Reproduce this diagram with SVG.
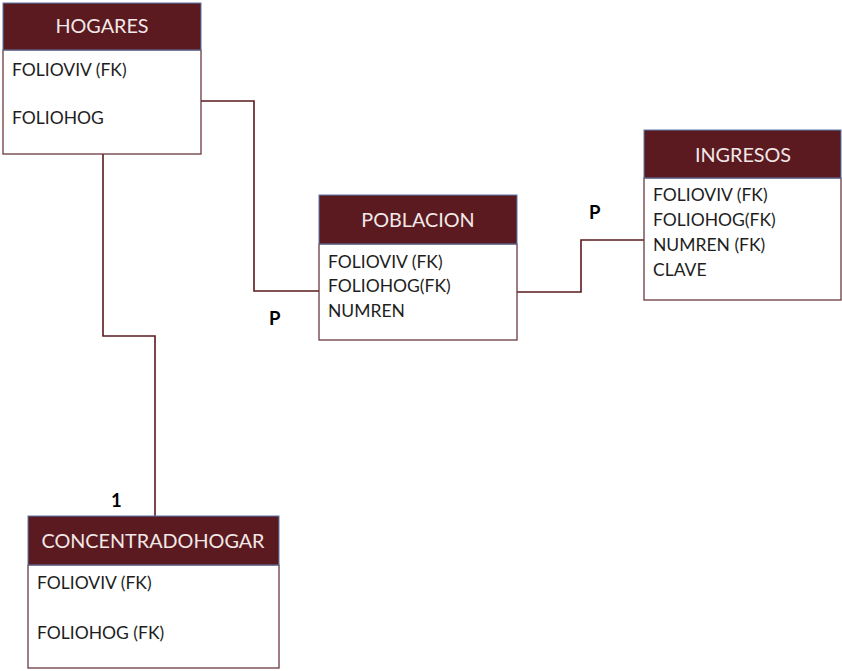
<svg xmlns="http://www.w3.org/2000/svg" width="842" height="671" viewBox="0 0 842 671">
<style>
.body{fill:#ffffff;stroke:#6b3a40;stroke-width:1.3}
.head{fill:#5a1a1f;stroke:#5b7bb0;stroke-width:1}
.ht{font-family:Lato,"Liberation Sans",sans-serif;font-size:19.8px;fill:#f3e8e8;text-anchor:middle}
.at{font-family:Lato,"Liberation Sans",sans-serif;font-size:17.5px;fill:#1e1e1e}
.lb{font-family:Lato,"Liberation Sans",sans-serif;font-size:18.5px;font-weight:bold;fill:#000}
.con{fill:none;stroke:#5a1a1f;stroke-width:1.6}
</style>
<rect width="842" height="671" fill="#ffffff"/>
<g id="connectors">
<polyline class="con" points="201,101 254,101 254,291 319,291"/>
<polyline class="con" points="517,292 581,292 581,240 644,240"/>
<polyline class="con" points="103,154 103,336 155,336 155,516"/>
</g>
<g id="labels">
<text class="lb" x="269" y="325">P</text>
<text class="lb" x="589" y="219">P</text>
<text class="lb" x="111" y="507">1</text>
</g>
<g id="hogares">
<rect class="body" x="3" y="50" width="198" height="104"/>
<rect class="head" x="3" y="3" width="198" height="47"/>
<text class="ht" x="102" y="33">HOGARES</text>
<text class="at" x="12" y="76">FOLIOVIV (FK)</text>
<text class="at" x="12" y="124">FOLIOHOG</text>
</g>
<g id="poblacion">
<rect class="body" x="319" y="244" width="198" height="96"/>
<rect class="head" x="319" y="195" width="198" height="49"/>
<text class="ht" x="418" y="227">POBLACION</text>
<text class="at" x="328" y="268">FOLIOVIV (FK)</text>
<text class="at" x="328" y="292">FOLIOHOG(FK)</text>
<text class="at" x="328" y="317">NUMREN</text>
</g>
<g id="ingresos">
<rect class="body" x="644" y="178" width="197" height="122"/>
<rect class="head" x="644" y="130" width="197" height="48"/>
<text class="ht" x="743" y="162">INGRESOS</text>
<text class="at" x="653" y="201">FOLIOVIV (FK)</text>
<text class="at" x="653" y="226">FOLIOHOG(FK)</text>
<text class="at" x="653" y="251">NUMREN (FK)</text>
<text class="at" x="653" y="276">CLAVE</text>
</g>
<g id="concentradohogar">
<rect class="body" x="28" y="565" width="251" height="103"/>
<rect class="head" x="28" y="516" width="251" height="49"/>
<text class="ht" x="153" y="548">CONCENTRADOHOGAR</text>
<text class="at" x="37" y="589">FOLIOVIV (FK)</text>
<text class="at" x="37" y="639">FOLIOHOG (FK)</text>
</g>
</svg>
